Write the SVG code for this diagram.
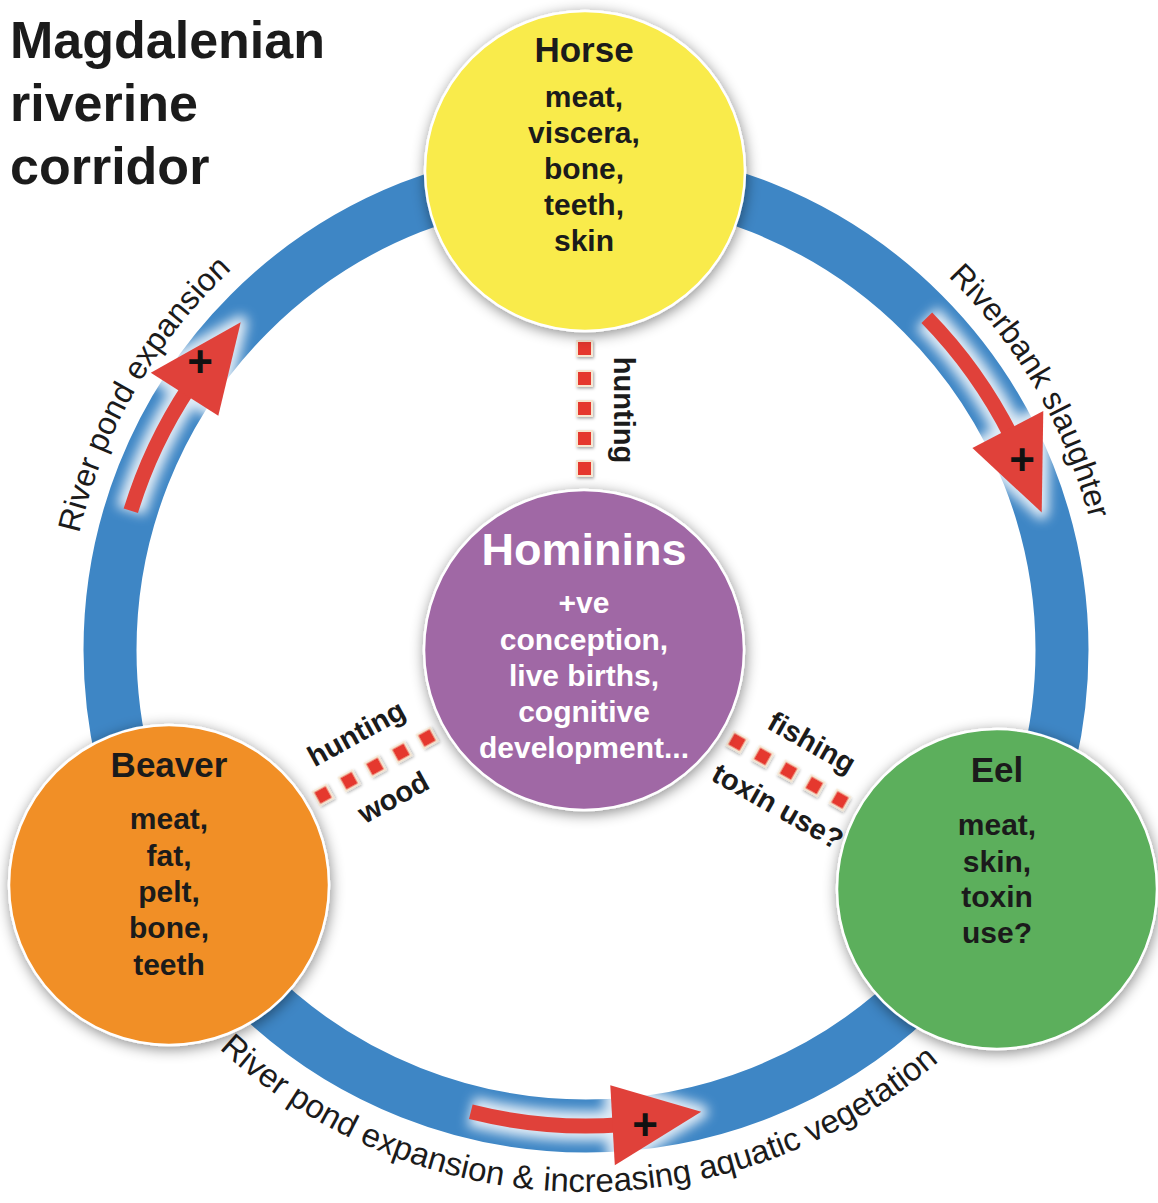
<svg xmlns="http://www.w3.org/2000/svg" width="1158" height="1203" viewBox="0 0 1158 1203">
<defs>
<style>
text{font-family:"Liberation Sans",Arial,sans-serif;fill:#1b1b1b}
.title{font-size:52px;font-weight:bold}
.hd{font-size:35px;font-weight:bold;text-anchor:middle}
.it{font-size:30px;font-weight:bold;text-anchor:middle}
.wt{fill:#ffffff}
.lbl{font-size:29px;font-weight:bold;text-anchor:middle}
.arc{font-size:32px}
.arcb{font-size:33px}
.plus{font-size:44px;font-weight:bold;fill:#111;text-anchor:middle}
.sq{fill:#E5392F;stroke:#F6E7D2;stroke-width:2;filter:url(#sqsh)}
.node{stroke:#ffffff;stroke-width:2.5;filter:url(#sh)}
.shaft{fill:none;stroke:#E0413A;stroke-width:15}
.head{fill:#E0413A}
.gshaft{fill:none;stroke:#ffffff;stroke-width:30}
.ghead{fill:#ffffff;stroke:#ffffff;stroke-width:14;stroke-linejoin:round}
</style>
<filter id="sh" x="-20%" y="-20%" width="140%" height="140%"><feDropShadow dx="1" dy="3" stdDeviation="7" flood-color="#000" flood-opacity="0.45"/></filter>
<filter id="glow" x="-30%" y="-30%" width="160%" height="160%"><feGaussianBlur stdDeviation="6"/></filter>
<filter id="sqsh" x="-50%" y="-50%" width="200%" height="200%"><feDropShadow dx="1" dy="1.5" stdDeviation="1.5" flood-opacity="0.35"/></filter>
<path id="pTL" d="M73.9 740.3 A520 520 0 0 1 408.2 161.4"/>
<path id="pR" d="M762.1 160.7 A520 520 0 0 1 1098.4 738.5"/>
<path id="pB" d="M112 912.8 A542 542 0 0 0 1050.6 929.1"/>
</defs>
<rect width="1158" height="1203" fill="#ffffff"/>

<g id="title">
<text class="title" x="10" y="58">Magdalenian</text>
<text class="title" x="10" y="121">riverine</text>
<text class="title" x="10" y="184">corridor</text>
</g>

<g id="connectors">
<circle cx="586" cy="650" r="476" fill="none" stroke="#3E86C5" stroke-width="53"/>
<g filter="url(#glow)" opacity="0.85">
<path class="gshaft" d="M130.8 510.8 A476 476 0 0 1 189.1 387.3"/>
<polygon class="ghead" points="150.8,372.8 240.7,322.3 218.3,415.7"/>
<path class="gshaft" d="M926.8 317.7 A476 476 0 0 1 1011.6 436.8"/>
<polygon class="ghead" points="1043.3,410.9 1041.7,512.4 972.4,448"/>
<path class="gshaft" d="M470.8 1111.8 A476 476 0 0 0 620.9 1124.7"/>
<polygon class="ghead" points="610.3,1085.3 701.2,1111.8 614.8,1165.2"/>
</g>
<g id="arrow-pond">
<path class="shaft" d="M130.8 510.8 A476 476 0 0 1 189.1 387.3"/>
<polygon class="head" points="150.8,372.8 240.7,322.3 218.3,415.7"/>
<text class="plus" x="200" y="377">+</text>
</g>
<g id="arrow-slaughter">
<path class="shaft" d="M926.8 317.7 A476 476 0 0 1 1011.6 436.8"/>
<polygon class="head" points="1043.3,410.9 1041.7,512.4 972.4,448"/>
<text class="plus" x="1022" y="475">+</text>
</g>
<g id="arrow-vegetation">
<path class="shaft" d="M470.8 1111.8 A476 476 0 0 0 620.9 1124.7"/>
<polygon class="head" points="610.3,1085.3 701.2,1111.8 614.8,1165.2"/>
<text class="plus" x="645" y="1140">+</text>
</g>
<g id="link-horse">
<rect class="sq" x="577" y="341" width="15" height="15"/>
<rect class="sq" x="577" y="371" width="15" height="15"/>
<rect class="sq" x="577" y="401" width="15" height="15"/>
<rect class="sq" x="577" y="431" width="15" height="15"/>
<rect class="sq" x="577" y="461" width="15" height="15"/>
<text class="lbl" transform="translate(614,410) rotate(90)">hunting</text>
</g>
<g id="link-beaver">
<rect class="sq" x="-7.5" y="-7.5" width="15" height="15" transform="translate(323,795) rotate(-28.7)"/>
<rect class="sq" x="-7.5" y="-7.5" width="15" height="15" transform="translate(349,780.75) rotate(-28.7)"/>
<rect class="sq" x="-7.5" y="-7.5" width="15" height="15" transform="translate(375,766.5) rotate(-28.7)"/>
<rect class="sq" x="-7.5" y="-7.5" width="15" height="15" transform="translate(401,752.25) rotate(-28.7)"/>
<rect class="sq" x="-7.5" y="-7.5" width="15" height="15" transform="translate(427,738) rotate(-28.7)"/>
<text class="lbl" transform="translate(361,742) rotate(-28.7)">hunting</text>
<text class="lbl" transform="translate(398,806) rotate(-28.7)">wood</text>
</g>
<g id="link-eel">
<rect class="sq" x="-7.5" y="-7.5" width="15" height="15" transform="translate(737,742) rotate(29.4)"/>
<rect class="sq" x="-7.5" y="-7.5" width="15" height="15" transform="translate(762.75,756.5) rotate(29.4)"/>
<rect class="sq" x="-7.5" y="-7.5" width="15" height="15" transform="translate(788.5,771) rotate(29.4)"/>
<rect class="sq" x="-7.5" y="-7.5" width="15" height="15" transform="translate(814.25,785.5) rotate(29.4)"/>
<rect class="sq" x="-7.5" y="-7.5" width="15" height="15" transform="translate(840,800) rotate(29.4)"/>
<text class="lbl" transform="translate(807,751) rotate(29.4)">fishing</text>
<text class="lbl" transform="translate(773,815) rotate(29.4)">toxin use?</text>
</g>
</g>

<g id="ring-labels">
<text class="arc"><textPath href="#pTL" startOffset="50%" text-anchor="middle">River pond expansion</textPath></text>
<text class="arc"><textPath href="#pR" startOffset="50%" text-anchor="middle">Riverbank slaughter</textPath></text>
<text class="arcb"><textPath href="#pB" startOffset="50%" text-anchor="middle">River pond expansion &amp; increasing aquatic vegetation</textPath></text>
</g>

<g id="node-horse">
<circle class="node" cx="585" cy="171" r="160" fill="#F9EB4B"/>
<text class="hd" x="584" y="62">Horse</text>
<text class="it" x="584" y="107">meat,</text>
<text class="it" x="584" y="143">viscera,</text>
<text class="it" x="584" y="179">bone,</text>
<text class="it" x="584" y="215">teeth,</text>
<text class="it" x="584" y="251">skin</text>
</g>

<g id="node-hominins">
<circle class="node" cx="584" cy="650" r="160" fill="#A068A5"/>
<text class="hd wt" x="584" y="565" style="font-size:45px">Hominins</text>
<text class="it wt" x="584" y="613">+ve</text>
<text class="it wt" x="584" y="650">conception,</text>
<text class="it wt" x="584" y="686">live births,</text>
<text class="it wt" x="584" y="722">cognitive</text>
<text class="it wt" x="584" y="758">development...</text>
</g>

<g id="node-beaver">
<circle class="node" cx="169" cy="885" r="160" fill="#F18F26"/>
<text class="hd" x="169" y="777">Beaver</text>
<text class="it" x="169" y="829">meat,</text>
<text class="it" x="169" y="866">fat,</text>
<text class="it" x="169" y="902">pelt,</text>
<text class="it" x="169" y="938">bone,</text>
<text class="it" x="169" y="975">teeth</text>
</g>

<g id="node-eel">
<circle class="node" cx="997" cy="889" r="160" fill="#5BAF5C"/>
<text class="hd" x="997" y="782">Eel</text>
<text class="it" x="997" y="835">meat,</text>
<text class="it" x="997" y="872">skin,</text>
<text class="it" x="997" y="907">toxin</text>
<text class="it" x="997" y="943">use?</text>
</g>
</svg>
